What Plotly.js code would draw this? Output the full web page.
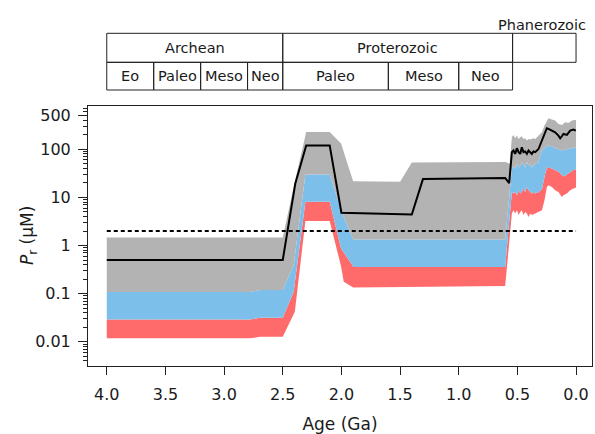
<!DOCTYPE html>
<html>
<head>
<meta charset="utf-8">
<script src="https://cdn.plot.ly/plotly-3.0.1.min.js"></script>
<style>html,body{margin:0;padding:0;background:#fff;}#chart{width:595px;height:434px;}</style>
</head>
<body>
<div id="chart"></div>
<script>
// ---- Data (Age in Ga, P_r in µM) ----
const ageGrayUpper = [4.0, 2.5, 2.407, 2.30, 2.10, 2.003, 1.90, 1.50, 1.40, 0.60, 0.565, 0.547, 0.533, 0.519, 0.504, 0.490, 0.476, 0.462, 0.448, 0.434, 0.419, 0.405, 0.391, 0.377, 0.363, 0.348, 0.334, 0.320, 0.291, 0.269, 0.249, 0.235, 0.206, 0.178, 0.150, 0.121, 0.093, 0.064, 0.036, 0.007, 0.0];
const grayUpper    = [1.47, 1.47, 16.5, 229, 229, 131, 21.7, 21, 53, 54, 50, 177, 198, 169, 192, 164, 177, 186, 164, 169, 151, 164, 159, 164, 169, 164, 177, 186, 225, 310, 394, 440, 413, 394, 335, 319, 363, 351, 394, 413, 410];

const ageBlueUpper = [4.0, 2.78, 2.69, 2.5, 2.407, 2.307, 2.10, 2.003, 1.90, 0.604, 0.547, 0.533, 0.519, 0.504, 0.490, 0.476, 0.462, 0.448, 0.434, 0.419, 0.405, 0.391, 0.377, 0.348, 0.320, 0.306, 0.291, 0.263, 0.235, 0.206, 0.178, 0.150, 0.121, 0.093, 0.064, 0.036, 0.007, 0.0];
const blueUpper    = [0.109, 0.109, 0.119, 0.119, 0.39, 30, 30, 5.4, 1.34, 1.34, 39, 46, 39, 50, 42, 46, 54, 46, 42, 54, 46, 50, 42, 50, 54, 74, 94, 110, 119, 115, 105, 101, 94, 99, 101, 105, 110, 110];

const ageRedUpper = [4.0, 2.78, 2.69, 2.5, 2.407, 2.307, 2.10, 2.003, 1.896, 0.604, 0.547, 0.533, 0.519, 0.504, 0.490, 0.476, 0.462, 0.448, 0.434, 0.419, 0.405, 0.391, 0.377, 0.363, 0.348, 0.320, 0.291, 0.263, 0.249, 0.235, 0.206, 0.178, 0.150, 0.121, 0.107, 0.078, 0.050, 0.022, 0.007, 0.0];
const redUpper    = [0.029, 0.029, 0.0316, 0.0316, 0.109, 8.1, 8.1, 0.87, 0.36, 0.36, 13, 12, 13, 11.1, 14.1, 12, 13, 15.3, 13, 16.5, 14.1, 13, 12, 13, 12, 13, 14.6, 31, 40, 43, 40, 37, 34, 29, 27, 30, 34, 37, 38, 38];

const ageRedLower = [4.0, 2.78, 2.69, 2.5, 2.397, 2.307, 2.10, 2.003, 1.98, 1.90, 0.604, 0.547, 0.533, 0.519, 0.504, 0.490, 0.476, 0.462, 0.448, 0.434, 0.419, 0.405, 0.391, 0.377, 0.348, 0.320, 0.291, 0.269, 0.249, 0.235, 0.206, 0.178, 0.150, 0.121, 0.107, 0.078, 0.050, 0.022, 0.007, 0.0];
const redLower    = [0.0118, 0.0118, 0.0128, 0.0128, 0.042, 3.25, 3.25, 0.37, 0.177, 0.135, 0.144, 4.6, 5.4, 4.6, 5.4, 4.3, 5.0, 5.4, 4.3, 5.0, 4.6, 3.9, 4.6, 4.3, 4.6, 5.0, 5.4, 8.7, 16.5, 17.9, 16.5, 14.1, 13, 10.2, 11.1, 12, 14.1, 15.3, 16, 16];

const ageMedian = [4.0, 2.5, 2.393, 2.30, 2.10, 2.0, 1.40, 1.305, 0.604, 0.57, 0.547, 0.533, 0.519, 0.504, 0.490, 0.476, 0.462, 0.448, 0.434, 0.419, 0.405, 0.391, 0.377, 0.363, 0.348, 0.320, 0.291, 0.269, 0.249, 0.235, 0.206, 0.178, 0.150, 0.135, 0.121, 0.107, 0.078, 0.050, 0.022, 0.002];
const median    = [0.5, 0.5, 19.4, 120, 120, 4.8, 4.4, 24, 25.4, 19.7, 87, 94, 80, 105, 87, 80, 110, 87, 90, 80, 94, 87, 80, 90, 87, 101, 151, 192, 273, 264, 244, 225, 192, 169, 186, 208, 198, 244, 256, 244];

const thresholdAge = [4.0, 0.0];
const threshold    = [2, 2];

const xTickVals = [4.0, 3.5, 3.0, 2.5, 2.0, 1.5, 1.0, 0.5, 0.0];
const xTickText = ['4.0', '3.5', '3.0', '2.5', '2.0', '1.5', '1.0', '0.5', '0.0'];
const yTickVals = [0.01, 0.1, 1, 10, 100, 500];
const yTickText = ['0.01', '0.1', '1', '10', '100', '500'];
const xTitle = 'Age (Ga)';
const yTitle = '<i>P</i><sub>r</sub> (µM)';

// Geologic time scale
const eonNames = ['Archean', 'Proterozoic', ''];
const eonStart = [4.0, 2.5, 0.541];
const eonEnd   = [2.5, 0.541, 0.0];
const eraNames = ['Eo', 'Paleo', 'Meso', 'Neo', 'Paleo', 'Meso', 'Neo'];
const eraStart = [4.0, 3.6, 3.2, 2.8, 2.5, 1.6, 1.0];
const eraEnd   = [3.6, 3.2, 2.8, 2.5, 1.6, 1.0, 0.541];
const phanLabel = 'Phanerozoic';

// ---- Styling ----
const FONT = '"DejaVu Sans", Lato, sans-serif';
const TXT = '#1a1a1a';
const GRAY = '#b3b3b3', BLUE = '#7dbfeb', RED = '#ff6b6b';

const traces = [
  {x: ageRedLower, y: redLower, mode: 'lines', line: {width: 0, color: RED}, hoverinfo: 'skip', showlegend: false},
  {x: ageRedUpper, y: redUpper, mode: 'lines', line: {width: 0, color: RED}, fill: 'tonexty', fillcolor: RED, hoverinfo: 'skip', showlegend: false},
  {x: ageBlueUpper, y: blueUpper, mode: 'lines', line: {width: 0, color: BLUE}, fill: 'tonexty', fillcolor: BLUE, hoverinfo: 'skip', showlegend: false},
  {x: ageGrayUpper, y: grayUpper, mode: 'lines', line: {width: 0, color: GRAY}, fill: 'tonexty', fillcolor: GRAY, hoverinfo: 'skip', showlegend: false},
  {x: thresholdAge, y: threshold, mode: 'lines', line: {width: 2, color: '#000', dash: '4px,3px'}, showlegend: false},
  {x: ageMedian, y: median, mode: 'lines', line: {width: 2, color: '#000'}, showlegend: false}
];

// table geometry in paper coords
const yTop = 1.2796, yMid = 1.168, yBot = 1.0615;
const shapes = [];
const annotations = [];
const lineStyle = {color: '#222', width: 1};
const tableFont = {family: FONT, size: 14.5, color: TXT};
for (let i = 0; i < eonNames.length; i++) {
  shapes.push({type: 'rect', xref: 'x', yref: 'paper', x0: eonStart[i], x1: eonEnd[i], y0: yMid, y1: yTop, line: lineStyle, fillcolor: 'rgba(0,0,0,0)', layer: 'above'});
  if (eonNames[i]) annotations.push({xref: 'x', yref: 'paper', x: (eonStart[i] + eonEnd[i]) / 2, y: (yMid + yTop) / 2, text: eonNames[i], showarrow: false, font: tableFont, xanchor: 'center', yanchor: 'middle'});
}
for (let i = 0; i < eraNames.length; i++) {
  shapes.push({type: 'rect', xref: 'x', yref: 'paper', x0: eraStart[i], x1: eraEnd[i], y0: yBot, y1: yMid, line: lineStyle, fillcolor: 'rgba(0,0,0,0)', layer: 'above'});
  annotations.push({xref: 'x', yref: 'paper', x: (eraStart[i] + eraEnd[i]) / 2, y: (yBot + yMid) / 2, text: eraNames[i], showarrow: false, font: tableFont, xanchor: 'center', yanchor: 'middle'});
}
annotations.push({xref: 'x', yref: 'paper', x: -0.10, y: 1.312, text: phanLabel, showarrow: false, font: tableFont, xanchor: 'right', yanchor: 'middle'});
// y-axis title placed as rotated annotation
annotations.push({xref: 'paper', yref: 'paper', x: -0.119, y: 0.5, text: yTitle, textangle: -90, showarrow: false, font: {family: FONT, size: 17, color: TXT}, xanchor: 'center', yanchor: 'middle'});

// minor tick positions for the log axis
const minorVals = [];
for (let e = -3; e <= 2; e++) for (let d = 2; d <= 9; d++) minorVals.push(d * Math.pow(10, e));

const layout = {
  width: 595, height: 434,
  margin: {l: 88, r: 3, t: 106, b: 68, pad: 0},
  paper_bgcolor: '#fff', plot_bgcolor: '#fff',
  font: {family: FONT, color: TXT, size: 16},
  showlegend: false,
  xaxis: {
    range: [4.16, -0.136], tickmode: 'array', tickvals: xTickVals, ticktext: xTickText,
    ticks: 'outside', ticklen: 8, tickwidth: 1, tickcolor: '#222', ticklabelstandoff: 6,
    showline: true, mirror: true, linecolor: '#222', linewidth: 1,
    showgrid: false, zeroline: false,
    tickfont: {family: FONT, size: 16, color: TXT},
    title: {text: xTitle, font: {family: FONT, size: 17, color: TXT}, standoff: 16}
  },
  yaxis: {
    type: 'log', range: [-2.502, 2.898], tickmode: 'array', tickvals: yTickVals, ticktext: yTickText,
    ticks: 'outside', ticklen: 9, tickwidth: 1, tickcolor: '#222', ticklabelstandoff: 4,
    minor: {tickmode: 'array', tickvals: minorVals, ticks: 'outside', ticklen: 4, tickwidth: 1, tickcolor: '#222', showgrid: false},
    showline: true, mirror: true, linecolor: '#222', linewidth: 1,
    showgrid: false, zeroline: false,
    tickfont: {family: FONT, size: 16, color: TXT}
  },
  shapes: shapes,
  annotations: annotations
};

Plotly.newPlot('chart', traces, layout, {displayModeBar: false, staticPlot: true});
</script>
</body>
</html>
